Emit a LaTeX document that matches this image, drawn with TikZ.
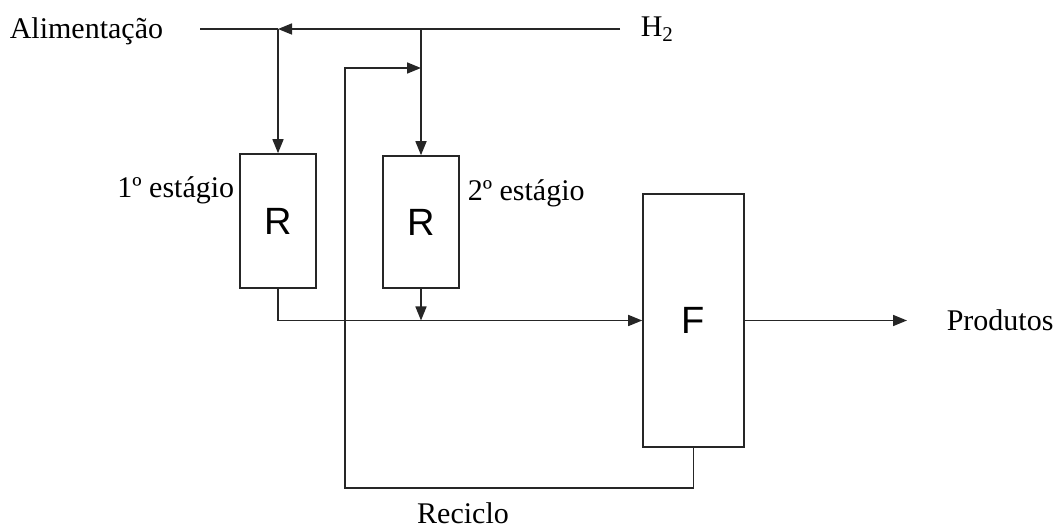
\documentclass[tikz,border=0pt]{standalone}
\usepackage{fontspec}
\setmainfont{Liberation Serif}
\newfontfamily\boxfont{Liberation Sans}
\usetikzlibrary{arrows.meta}
\begin{document}
\begin{tikzpicture}[x=1pt,y=-1pt,
  line width=1.6pt, draw=black!85,
  unit/.style={draw, line width=1.6pt, fill=white, inner sep=0pt, font=\boxfont\fontsize{38}{42}\selectfont},
  lbl/.style={inner sep=0pt, font=\fontsize{30}{34}\selectfont},
  flow/.style={-{Triangle[length=14pt,width=11pt]}}]
\useasboundingbox (0,0) rectangle (1053,529);
\node[unit, minimum width=76pt, minimum height=134pt] (r1) at (278,221) {R};
\node[unit, minimum width=76pt, minimum height=132pt] (r2) at (421,222) {R};
\node[unit, minimum width=101pt, minimum height=253pt] (f) at (693.5,320.5) {F};
\node[lbl, anchor=west] (alim) at (9,31) {Alimentação};
\node[lbl, anchor=west] (h2) at (640,29) {H\textsubscript{2}};
\node[lbl, anchor=east] (s1) at (235,190) {1º estágio};
\node[lbl, anchor=west] (s2) at (467,193) {2º estágio};
\node[lbl, anchor=west] (prod) at (946,320) {Produtos};
\node[lbl] (rec) at (463,513) {Reciclo};
\coordinate (h2end) at (620,29);
\coordinate (alimEnd) at (200,29);
\coordinate (j1) at (r1.north |- h2end);
\coordinate (j2) at (r2.north |- h2end);
\coordinate (j3) at (r2.north |- 0,68);
\coordinate (rl) at (345,68);
\coordinate (rb) at (f.south |- 0,488);
\coordinate (m1) at (r1.south |- f.west);
\coordinate (m2) at (r2.south |- f.west);
\coordinate (pend) at (907,320.5);
\draw[flow] (h2end) -- (j1);
\draw (j1) -- (alimEnd);
\draw[flow] (j1) -- (r1.north);
\draw[flow] (j2) -- (r2.north);
\draw[flow] (f.south) -- (rb) -| (rl) -- (j3);
\draw[flow] (r1.south) -- (m1) -- (f.west);
\draw[flow] (r2.south) -- (m2);
\draw[flow] (f.east) -- (pend);
\end{tikzpicture}
\end{document}
